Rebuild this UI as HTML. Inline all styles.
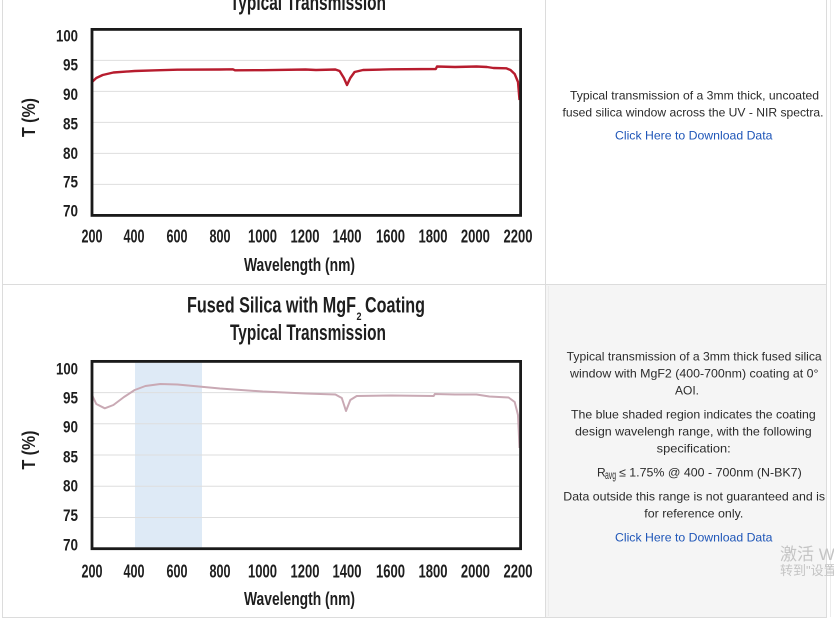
<!DOCTYPE html>
<html><head><meta charset="utf-8"><style>
html,body{margin:0;padding:0;background:#fff;}
svg{display:block;}
.c{font-family:"Liberation Sans Narrow","Liberation Sans",sans-serif;font-weight:bold;fill:#1e1e1e;}
.t{font-family:"Liberation Sans",sans-serif;font-size:12px;fill:#2b2b2b;}
.l{font-family:"Liberation Sans",sans-serif;font-size:12px;fill:#1f56b8;}
</style></head><body>
<svg width="834" height="622" viewBox="0 0 834 622" xmlns="http://www.w3.org/2000/svg">
<rect x="0" y="0" width="834" height="622" fill="#fff"/>
<!-- gray cell -->
<rect x="546" y="285" width="281" height="332" fill="#f5f5f5"/>
<!-- table borders -->
<g stroke="#dcdcdc" stroke-width="1" fill="none">
<line x1="2.5" y1="0" x2="2.5" y2="617"/>
<line x1="545.5" y1="0" x2="545.5" y2="617"/>
<line x1="826.5" y1="0" x2="826.5" y2="617"/>
<line x1="2" y1="284.5" x2="827" y2="284.5"/>
<line x1="2" y1="617.5" x2="827" y2="617.5"/>
</g>
<line x1="548.5" y1="286" x2="548.5" y2="616" stroke="#ececec"/>
<line x1="830.5" y1="0" x2="830.5" y2="617" stroke="#ececec"/>

<!-- ===== Chart 1 ===== -->
<text class="c" x="230" y="10" font-size="22" textLength="156" lengthAdjust="spacingAndGlyphs">Typical Transmission</text>
<g stroke="#dedede" stroke-width="1">
<line x1="93" y1="60.4" x2="519" y2="60.4"/>
<line x1="93" y1="91.4" x2="519" y2="91.4"/>
<line x1="93" y1="122.4" x2="519" y2="122.4"/>
<line x1="93" y1="153.4" x2="519" y2="153.4"/>
<line x1="93" y1="184.4" x2="519" y2="184.4"/>
</g>
<path d="M92,82 L96.3,78 L102.7,75 L113.4,72.5 L134.7,71 L156,70.3 L177.4,69.7 L220,69.5 L232.9,69.3 L235,70.3 L262.8,70.2 L305.5,69.5 L316,70 L335.4,69.5 L339.6,71 L343.9,78 L347,85 L350.3,78 L354.6,72 L363,70 L391,69.3 L435.8,69 L437,66.5 L455,67 L476.5,66.5 L487,67 L493.4,68 L506.2,68.3 L510.5,70 L514.7,74 L518,82 L519.5,100" fill="none" stroke="#b71c2e" stroke-width="2.4" stroke-linejoin="round"/>
<rect x="92" y="29.4" width="428.6" height="186" fill="none" stroke="#1a1a1a" stroke-width="2.8"/>
<g class="c" font-size="17" text-anchor="end">
<text x="78" y="41.7" textLength="22" lengthAdjust="spacingAndGlyphs">100</text>
<text x="78" y="70.7" textLength="15" lengthAdjust="spacingAndGlyphs">95</text>
<text x="78" y="100" textLength="15" lengthAdjust="spacingAndGlyphs">90</text>
<text x="78" y="129.3" textLength="15" lengthAdjust="spacingAndGlyphs">85</text>
<text x="78" y="159" textLength="15" lengthAdjust="spacingAndGlyphs">80</text>
<text x="78" y="187.7" textLength="15" lengthAdjust="spacingAndGlyphs">75</text>
<text x="78" y="216.7" textLength="15" lengthAdjust="spacingAndGlyphs">70</text>
</g>
<g class="c" font-size="18" text-anchor="middle">
<text x="92" y="242.7" textLength="21" lengthAdjust="spacingAndGlyphs">200</text>
<text x="134" y="242.7" textLength="21" lengthAdjust="spacingAndGlyphs">400</text>
<text x="177" y="242.7" textLength="21" lengthAdjust="spacingAndGlyphs">600</text>
<text x="220" y="242.7" textLength="21" lengthAdjust="spacingAndGlyphs">800</text>
<text x="262.5" y="242.7" textLength="29" lengthAdjust="spacingAndGlyphs">1000</text>
<text x="305" y="242.7" textLength="29" lengthAdjust="spacingAndGlyphs">1200</text>
<text x="347" y="242.7" textLength="29" lengthAdjust="spacingAndGlyphs">1400</text>
<text x="390.5" y="242.7" textLength="29" lengthAdjust="spacingAndGlyphs">1600</text>
<text x="433" y="242.7" textLength="29" lengthAdjust="spacingAndGlyphs">1800</text>
<text x="475.4" y="242.7" textLength="29" lengthAdjust="spacingAndGlyphs">2000</text>
<text x="518" y="242.7" textLength="29" lengthAdjust="spacingAndGlyphs">2200</text>
</g>
<text class="c" x="244" y="271" font-size="18" textLength="111" lengthAdjust="spacingAndGlyphs">Wavelength (nm)</text>
<text class="c" x="0" y="0" font-size="18" text-anchor="middle" textLength="39" lengthAdjust="spacingAndGlyphs" transform="translate(35,117.5) rotate(-90)">T (%)</text>

<!-- ===== Chart 2 ===== -->
<text class="c" x="187" y="312.3" font-size="22" textLength="169" lengthAdjust="spacingAndGlyphs">Fused Silica with MgF</text>
<text class="c" x="356.5" y="320" font-size="11" textLength="5" lengthAdjust="spacingAndGlyphs">2</text>
<text class="c" x="365" y="312.3" font-size="22" textLength="60" lengthAdjust="spacingAndGlyphs">Coating</text>
<text class="c" x="230" y="340" font-size="22" textLength="156" lengthAdjust="spacingAndGlyphs">Typical Transmission</text>
<rect x="135" y="362.7" width="67" height="184.6" fill="#deeaf6"/>
<g stroke="#dedede" stroke-width="1">
<line x1="93" y1="392.6" x2="519" y2="392.6"/>
<line x1="93" y1="423.8" x2="519" y2="423.8"/>
<line x1="93" y1="455" x2="519" y2="455"/>
<line x1="93" y1="486.3" x2="519" y2="486.3"/>
<line x1="93" y1="517.5" x2="519" y2="517.5"/>
</g>
<path d="M92,395 L96.3,404 L104.8,408.3 L113.4,405 L124,397 L134.7,390 L145.4,386 L160.3,384 L177.4,384.5 L198.8,386.5 L220,388.5 L262.8,391.5 L305.5,393.5 L335.4,394.5 L341.8,398 L346,411 L350.3,400 L356.7,396 L391,395.5 L433.7,396 L434.8,394 L455,394.5 L476.5,394.5 L489.4,396.5 L508.6,397.5 L514.7,402 L518,415 L519.5,448" fill="none" stroke="#c9a9b4" stroke-width="2" stroke-linejoin="round"/>
<rect x="92" y="361.4" width="428.6" height="187.3" fill="none" stroke="#1a1a1a" stroke-width="2.8"/>
<g class="c" font-size="17" text-anchor="end">
<text x="78" y="374.3" textLength="22" lengthAdjust="spacingAndGlyphs">100</text>
<text x="78" y="403.3" textLength="15" lengthAdjust="spacingAndGlyphs">95</text>
<text x="78" y="432.7" textLength="15" lengthAdjust="spacingAndGlyphs">90</text>
<text x="78" y="462.3" textLength="15" lengthAdjust="spacingAndGlyphs">85</text>
<text x="78" y="491.7" textLength="15" lengthAdjust="spacingAndGlyphs">80</text>
<text x="78" y="521" textLength="15" lengthAdjust="spacingAndGlyphs">75</text>
<text x="78" y="550.7" textLength="15" lengthAdjust="spacingAndGlyphs">70</text>
</g>
<g class="c" font-size="18" text-anchor="middle">
<text x="92" y="577.5" textLength="21" lengthAdjust="spacingAndGlyphs">200</text>
<text x="134" y="577.5" textLength="21" lengthAdjust="spacingAndGlyphs">400</text>
<text x="177" y="577.5" textLength="21" lengthAdjust="spacingAndGlyphs">600</text>
<text x="220" y="577.5" textLength="21" lengthAdjust="spacingAndGlyphs">800</text>
<text x="262.5" y="577.5" textLength="29" lengthAdjust="spacingAndGlyphs">1000</text>
<text x="305" y="577.5" textLength="29" lengthAdjust="spacingAndGlyphs">1200</text>
<text x="347" y="577.5" textLength="29" lengthAdjust="spacingAndGlyphs">1400</text>
<text x="390.5" y="577.5" textLength="29" lengthAdjust="spacingAndGlyphs">1600</text>
<text x="433" y="577.5" textLength="29" lengthAdjust="spacingAndGlyphs">1800</text>
<text x="475.4" y="577.5" textLength="29" lengthAdjust="spacingAndGlyphs">2000</text>
<text x="518" y="577.5" textLength="29" lengthAdjust="spacingAndGlyphs">2200</text>
</g>
<text class="c" x="244" y="605" font-size="18" textLength="111" lengthAdjust="spacingAndGlyphs">Wavelength (nm)</text>
<text class="c" x="0" y="0" font-size="18" text-anchor="middle" textLength="39" lengthAdjust="spacingAndGlyphs" transform="translate(35,450) rotate(-90)">T (%)</text>

<!-- ===== Right text, row 1 ===== -->
<text class="t" x="570" y="99.3" textLength="249" lengthAdjust="spacingAndGlyphs">Typical transmission of a 3mm thick, uncoated</text>
<text class="t" x="562.5" y="116.7" textLength="261" lengthAdjust="spacingAndGlyphs">fused silica window across the UV - NIR spectra.</text>
<text class="l" x="615" y="139.5" textLength="157.5" lengthAdjust="spacingAndGlyphs">Click Here to Download Data</text>

<!-- ===== Right text, row 2 ===== -->
<text class="t" x="566.7" y="360.7" textLength="255" lengthAdjust="spacingAndGlyphs">Typical transmission of a 3mm thick fused silica</text>
<text class="t" x="570" y="377.7" textLength="248.5" lengthAdjust="spacingAndGlyphs">window with MgF2 (400-700nm) coating at 0°</text>
<text class="t" x="687" y="394.3" text-anchor="middle">AOI.</text>
<text class="t" x="571" y="418.7" textLength="244.7" lengthAdjust="spacingAndGlyphs">The blue shaded region indicates the coating</text>
<text class="t" x="575" y="435.7" textLength="236.7" lengthAdjust="spacingAndGlyphs">design wavelengh range, with the following</text>
<text class="t" x="656.7" y="452.7" textLength="74" lengthAdjust="spacingAndGlyphs">specification:</text>
<text class="t" x="597" y="476.5">R</text>
<text class="t" x="605" y="479" font-size="9" textLength="11" lengthAdjust="spacingAndGlyphs">avg</text>
<text class="t" x="619" y="476.5" textLength="182.7" lengthAdjust="spacingAndGlyphs">≤ 1.75% @ 400 - 700nm (N-BK7)</text>
<text class="t" x="563.3" y="500.7" textLength="261.7" lengthAdjust="spacingAndGlyphs">Data outside this range is not guaranteed and is</text>
<text class="t" x="644.3" y="517.3" textLength="99" lengthAdjust="spacingAndGlyphs">for reference only.</text>
<text class="l" x="615" y="541.7" textLength="157.5" lengthAdjust="spacingAndGlyphs">Click Here to Download Data</text>

<!-- watermark -->
<text x="780" y="560" font-family="'Liberation Sans','Noto Sans CJK SC',sans-serif" font-size="17" fill="#c4c4c4">激活 W</text>
<text x="780" y="575" font-family="'Liberation Sans','Noto Sans CJK SC',sans-serif" font-size="13" fill="#c4c4c4">转到"设置</text>
</svg>
</body></html>
